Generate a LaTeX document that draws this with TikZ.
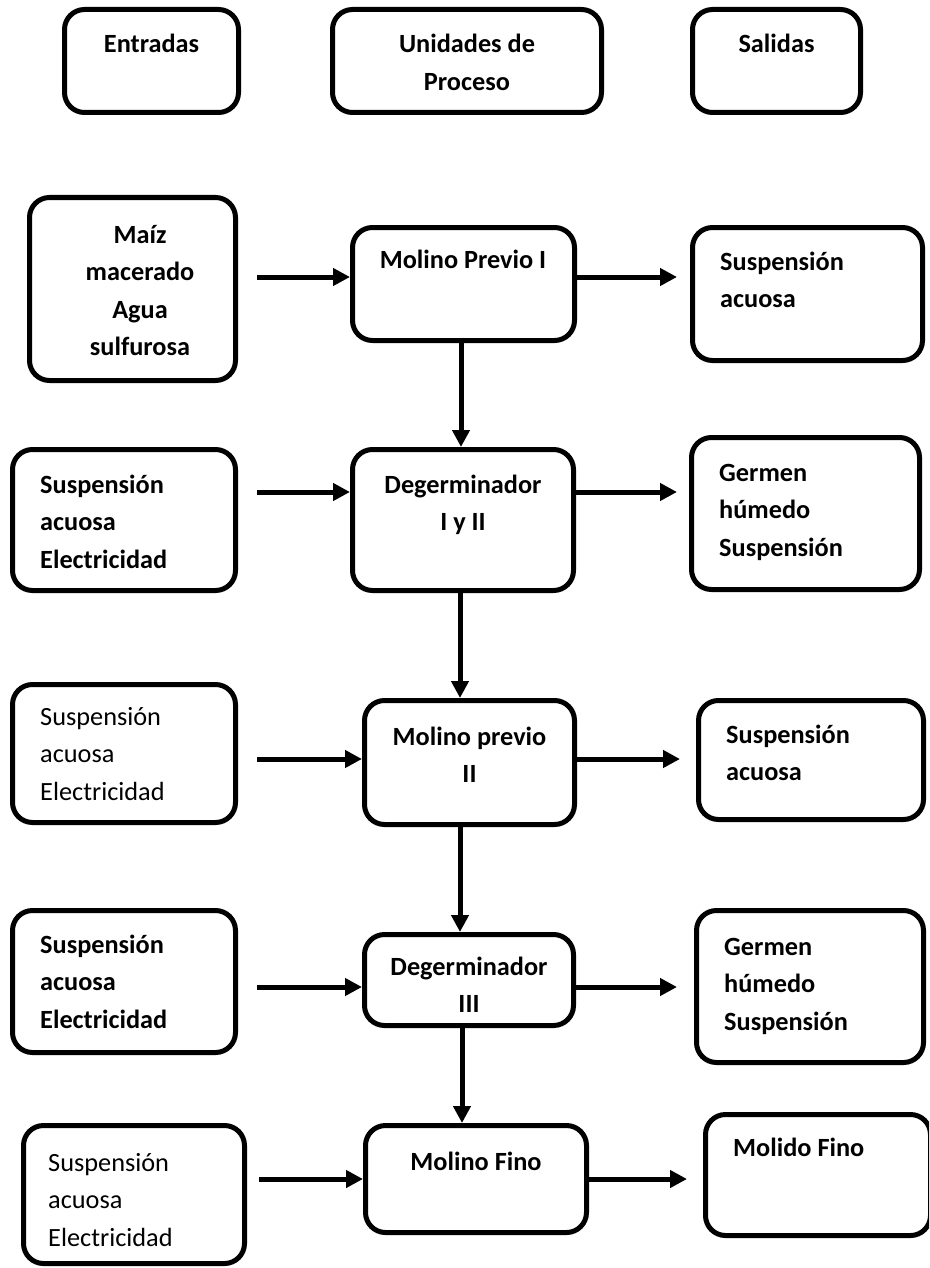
\documentclass[tikz,border=0pt]{standalone}
\usepackage{fontspec}
\setmainfont{Carlito}
\usetikzlibrary{arrows.meta}
\tikzset{
  box/.style={draw, line width=5pt, rounded corners=20pt, inner sep=0pt, fill=white},
  flow/.style={line width=5pt, -{Triangle[length=17pt,width=17pt]}},
  txt/.style={inner sep=0pt, font=\fontsize{26.3pt}{37.5pt}\selectfont},
  txtb/.style={inner sep=0pt, font=\fontsize{26.3pt}{37.5pt}\selectfont\bfseries},
  % multi-line labels are placed by the baseline of their last line
  lft/.style={anchor=base west, align=left},
  ctr/.style={anchor=base, align=center},
}
\begin{document}
\begin{tikzpicture}[x=1pt,y=-1pt]
\clip (0,0) rectangle (929,1268);
\fill[white] (0,0) rectangle (929,1268);

% column headings
\node[box, minimum width=174pt, minimum height=103pt] (hin) at (151.5,61) {};
\node[box, minimum width=269pt, minimum height=103pt] (hproc) at (467,61) {};
\node[box, minimum width=168pt, minimum height=103pt] (hout) at (776.5,61) {};
\node[txtb, ctr] (hint) at (151.5,53) {Entradas};
\node[txtb, ctr] (hproct) at (467,90.5) {Unidades de\\Proceso};
\node[txtb, ctr] (houtt) at (776.5,53) {Salidas};

% boxes: inputs, process units, outputs
\node[box, minimum width=206pt, minimum height=183pt] (in1) at (132.5,289) {};
\node[box, minimum width=222pt, minimum height=113pt] (mp1) at (463.5,284) {};
\node[box, minimum width=230pt, minimum height=133pt] (out1) at (807.5,294) {};

\node[box, minimum width=223pt, minimum height=141pt] (in2) at (124,520) {};
\node[box, minimum width=221pt, minimum height=141pt] (dg1) at (463,520) {};
\node[box, minimum width=228pt, minimum height=152pt] (out2) at (805.5,513.5) {};

\node[box, minimum width=223pt, minimum height=138pt] (in3) at (124,753.5) {};
\node[box, minimum width=210pt, minimum height=124pt] (mp2) at (469.5,762.5) {};
\node[box, minimum width=225pt, minimum height=119pt] (out3) at (811,760) {};

\node[box, minimum width=223pt, minimum height=142pt] (in4) at (124,981.5) {};
\node[box, minimum width=209pt, minimum height=91pt] (dg3) at (469,980) {};
\node[box, minimum width=227pt, minimum height=152pt] (out4) at (810,986.5) {};

\node[box, minimum width=221pt, minimum height=138pt] (in5) at (134,1194.5) {};
\node[box, minimum width=221pt, minimum height=107pt] (mf) at (476,1179) {};
\node[box, minimum width=225pt, minimum height=121pt] (out5) at (818,1175) {};

% texts
\node[txtb, ctr] (in1t) at (140,355.5) {Maíz\\macerado\\Agua\\sulfurosa};
\node[txtb, ctr] (mp1t) at (463,268) {Molino Previo I};
\node[txtb, lft] (out1t) at (720,307.5) {Suspensión\\acuosa};

\node[txtb, lft] (in2t) at (40,568) {Suspensión\\acuosa\\Electricidad};
\node[txtb, ctr] (dg1t) at (463,530.5) {Degerminador\\I y II};
\node[txtb, lft] (out2t) at (719,556) {Germen\\húmedo\\Suspensión};

\node[txt, lft] (in3t) at (40,800) {Suspensión\\acuosa\\Electricidad};
\node[txtb, ctr] (mp2t) at (469.5,782.5) {Molino previo\\II};
\node[txtb, lft] (out3t) at (726,780.5) {Suspensión\\acuosa};

\node[txtb, lft] (in4t) at (40,1028) {Suspensión\\acuosa\\Electricidad};
\node[txtb, ctr] (dg3t) at (469,1012.5) {Degerminador\\III};
\node[txtb, lft] (out4t) at (724,1030) {Germen\\húmedo\\Suspensión};

\node[txt, lft] (in5t) at (48,1246) {Suspensión\\acuosa\\Electricidad};
\node[txtb, ctr] (mft) at (476,1170) {Molino Fino};
\node[txtb, lft] (out5t) at (733,1156) {Molido Fino};

% arrow levels and main spine
\coordinate (r1) at (0,277);
\coordinate (r2) at (0,492);
\coordinate (r3) at (0,759);
\coordinate (r4) at (0,987);
\coordinate (r5) at (0,1179);
\coordinate (s1) at (461,0);
\coordinate (s2) at (460,0);
\coordinate (s3) at (460,0);
\coordinate (s4) at (462,0);

% input arrows
\draw[flow, shorten <=19pt] (in1.east |- r1) -- (mp1.west |- r1);
\draw[flow, shorten <=19pt] (in2.east |- r2) -- (dg1.west |- r2);
\draw[flow, shorten <=19pt] (in3.east |- r3) -- (mp2.west |- r3);
\draw[flow, shorten <=19pt] (in4.east |- r4) -- (dg3.west |- r4);
\draw[flow, shorten <=12pt] (in5.east |- r5) -- (mf.west |- r5);

% output arrows
\draw[flow, shorten >=13pt] (mp1.east |- r1) -- (out1.west |- r1);
\draw[flow, shorten >=12pt] (dg1.east |- r2) -- (out2.west |- r2);
\draw[flow, shorten >=16pt] (mp2.east |- r3) -- (out3.west |- r3);
\draw[flow, shorten >=17pt] (dg3.east |- r4) -- (out4.west |- r4);
\draw[flow, shorten >=16pt] (mf.east |- r5) -- (out5.west |- r5);

% process sequence
\draw[flow] (mp1.south -| s1) -- (dg1.north -| s1);
\draw[flow] (dg1.south -| s2) -- (mp2.north -| s2);
\draw[flow] (mp2.south -| s3) -- (dg3.north -| s3);
\draw[flow] (dg3.south -| s4) -- (mf.north -| s4);
\end{tikzpicture}
\end{document}
